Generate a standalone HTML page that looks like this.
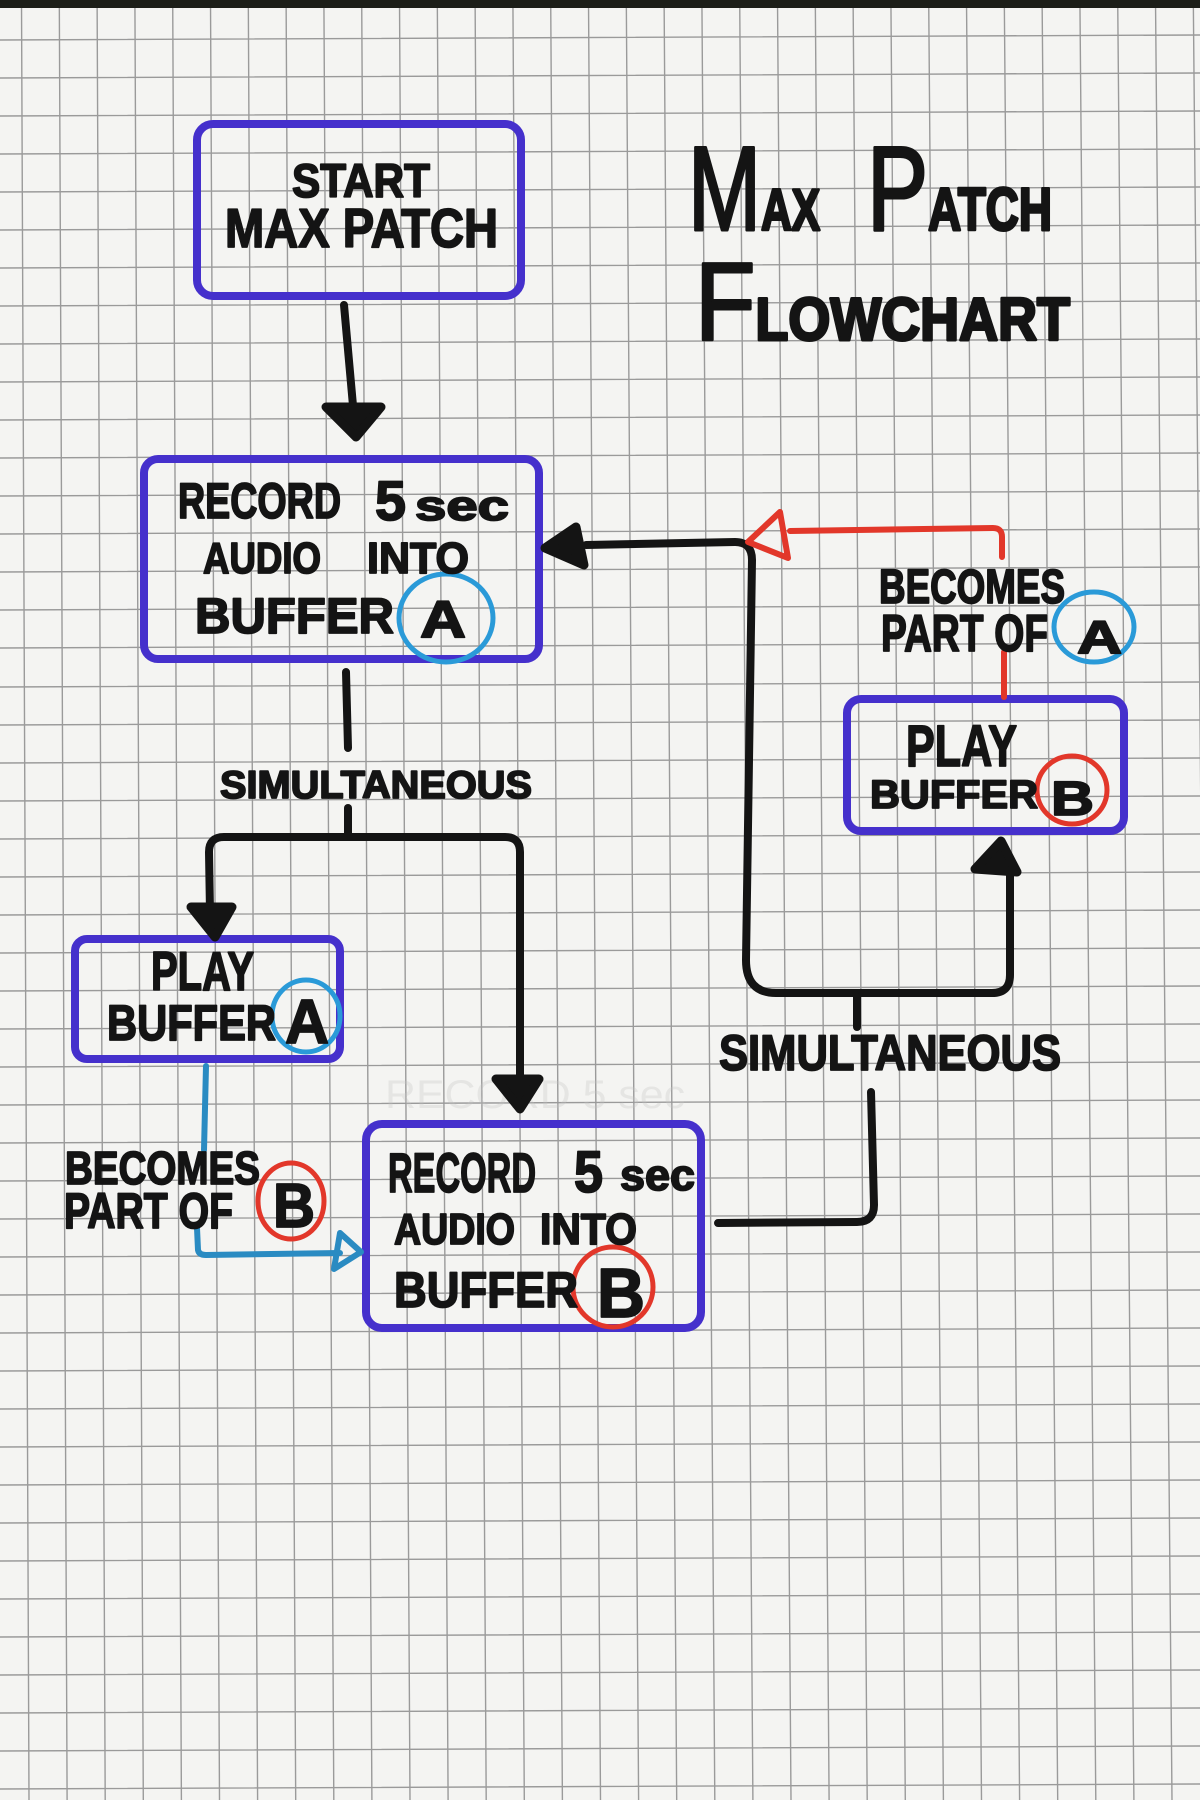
<!DOCTYPE html>
<html>
<head>
<meta charset="utf-8">
<style>
  html, body { margin:0; padding:0; background:#f3f3f1; }
  body { width:1200px; height:1800px; overflow:hidden; }
  svg { display:block; }
  .t { font-family:"Liberation Sans", "DejaVu Sans", sans-serif; font-weight:bold; fill:#141414; stroke:#141414; stroke-width:1.8; stroke-linejoin:round; }
  .tt { font-family:"Liberation Sans", "DejaVu Sans", sans-serif; fill:#141414; stroke:#141414; stroke-linejoin:round; }
</style>
</head>
<body>
<svg width="1200" height="1800" viewBox="0 0 1200 1800" xmlns="http://www.w3.org/2000/svg">
  <rect x="0" y="0" width="1200" height="1800" fill="#f4f4f2"/>
  <!-- grid vertical -->
  <path fill="none" stroke="#9a9a9a" stroke-width="1.4" d="
M21.5 0L29 1800M59.3 0L67.1 1800M97.1 0L105.2 1800M134.9 0L143.3 1800M172.7 0L181.4 1800M210.5 0L219.5 1800M248.3 0L257.6 1800M286.1 0L295.7 1800M323.9 0L333.8 1800M361.7 0L371.9 1800M399.5 0L410 1800M437.3 0L448.1 1800M475.1 0L486.2 1800M512.9 0L524.3 1800M550.7 0L562.4 1800M588.5 0L600.5 1800M626.3 0L638.6 1800M664.1 0L676.7 1800M701.9 0L714.8 1800M739.7 0L752.9 1800M777.5 0L791 1800M815.3 0L829.1 1800M853.1 0L867.2 1800M890.9 0L905.3 1800M928.7 0L943.4 1800M966.5 0L981.5 1800M1004.3 0L1019.6 1800M1042.1 0L1057.7 1800M1079.9 0L1095.8 1800M1117.7 0L1133.9 1800M1155.5 0L1172 1800M1193.3 0L1210.1 1800"/>
  <!-- grid horizontal -->
  <path fill="none" stroke="#9a9a9a" stroke-width="1.4" d="
M0 40L1200 35M0 78L1200 73M0 116L1200 111M0 154L1200 149M0 192L1200 187M0 230L1200 225M0 268L1200 263M0 306L1200 301M0 344L1200 339M0 382L1200 377M0 420L1200 415M0 458L1200 453M0 496L1200 491M0 534L1200 529M0 572L1200 567M0 610L1200 605M0 648L1200 643M0 687L1200 682M0 725L1200 720M0 763L1200 758M0 801L1200 796M0 839L1200 834M0 877L1200 872M0 915L1200 910M0 953L1200 948M0 991L1200 986M0 1029L1200 1024M0 1067L1200 1062M0 1105L1200 1100M0 1143L1200 1138M0 1181L1200 1176M0 1219L1200 1214M0 1257L1200 1252M0 1295L1200 1290M0 1333L1200 1328M0 1371L1200 1366M0 1409L1200 1404M0 1447L1200 1442M0 1485L1200 1480M0 1523L1200 1518M0 1561L1200 1556M0 1599L1200 1594M0 1637L1200 1632M0 1675L1200 1670M0 1713L1200 1708M0 1751L1200 1746M0 1789L1200 1784"/>
  <!-- top dark band -->
  <rect x="0" y="0" width="1200" height="8" fill="#1c1e18"/>

  <!-- faint pencil ghosts -->
  <g font-family="Liberation Sans, sans-serif" fill="#c4c4c4" opacity="0.3" font-size="40">
    <text x="385" y="1108" textLength="300" lengthAdjust="spacingAndGlyphs">RECORD 5 sec</text>
  </g>

  <!-- BOXES -->
  <g fill="none" stroke="#4530cc" stroke-width="8" stroke-linejoin="round">
    <rect x="197" y="124" width="324" height="172" rx="16"/>
    <rect x="144" y="459" width="395" height="200" rx="14"/>
    <rect x="847" y="699" width="277" height="132" rx="14"/>
    <rect x="75" y="939" width="265" height="120" rx="12"/>
    <rect x="366" y="1124" width="335" height="204" rx="16"/>
  </g>

  <!-- BLACK CONNECTORS -->
  <g fill="none" stroke="#141414" stroke-width="8" stroke-linecap="round" stroke-linejoin="round">
    <path d="M344 305 L355 428"/>
    <path d="M346 672 L348 748"/>
    <path d="M348 808 L348 837"/>
    <path d="M210 912 L209 852 Q209 837 224 837 L505 837 Q520 837 520 852 L520 1085"/>
    <path d="M586 545 L735 542 Q752 542 752 560 L746 960 Q746 993 776 993 L992 993 Q1010 993 1010 975 L1010 872"/>
    <path d="M857 997 L857 1027"/>
    <path d="M871 1092 L874 1205 Q874 1222 857 1222 L718 1223"/>
  </g>
  <g fill="#141414" stroke="#141414" stroke-width="9" stroke-linejoin="round">
    <path d="M326 407 L381 407 L356 437 Z"/>
    <path d="M191 907 L232 907 L215 937 Z"/>
    <path d="M496 1079 L539 1079 L520 1109 Z"/>
    <path d="M576 527 L545 548 L584 565 Z"/>
    <path d="M975 869 L1017 872 L1001 841 Z"/>
  </g>

  <!-- RED connectors -->
  <g fill="none" stroke="#e2372a" stroke-width="6" stroke-linecap="round" stroke-linejoin="round">
    <path d="M1002 557 L1002 537 Q1002 528 993 528 L790 531"/>
    <path d="M780 512 L748 542 L788 558 Z"/>
    <path d="M1004 652 L1004 697"/>
  </g>

  <!-- BLUE connectors -->
  <g fill="none" stroke="#2a8bc2" stroke-width="6" stroke-linecap="round" stroke-linejoin="round">
    <path d="M206 1066 L204 1150"/>
    <path d="M197 1228 L198 1250 Q199 1255 206 1255 L340 1253"/>
    <path d="M340 1233 L361 1252 L334 1269 Z"/>
  </g>

  <!-- CIRCLES -->
  <g fill="none" stroke-width="5">
    <ellipse cx="446" cy="618" rx="47" ry="44" stroke="#2a9ad8"/>
    <ellipse cx="1094" cy="627" rx="40" ry="35" stroke="#2a9ad8"/>
    <ellipse cx="306" cy="1016" rx="34" ry="36" stroke="#2a9ad8"/>
    <ellipse cx="1072" cy="790" rx="35" ry="34" stroke="#e2372a"/>
    <ellipse cx="291" cy="1201" rx="33" ry="38" stroke="#e2372a"/>
    <ellipse cx="613" cy="1287" rx="40" ry="40" stroke="#e2372a"/>
  </g>

  <!-- TEXT -->
  <g class="t">
    <text x="292" y="197" font-size="47" textLength="138" lengthAdjust="spacingAndGlyphs">START</text>
    <text x="225" y="247" font-size="55" textLength="273" lengthAdjust="spacingAndGlyphs">MAX PATCH</text>

    <text x="178" y="518" font-size="50" textLength="163" lengthAdjust="spacingAndGlyphs">RECORD</text>
    <text x="375" y="520" font-size="56" textLength="31" lengthAdjust="spacingAndGlyphs">5</text>
    <text x="415" y="520" font-size="42" textLength="94" lengthAdjust="spacingAndGlyphs">sec</text>
    <text x="203" y="573" font-size="44" textLength="118" lengthAdjust="spacingAndGlyphs">AUDIO</text>
    <text x="367" y="573" font-size="44" textLength="102" lengthAdjust="spacingAndGlyphs">INTO</text>
    <text x="195" y="633" font-size="50" textLength="199" lengthAdjust="spacingAndGlyphs">BUFFER</text>
    <text x="420" y="637" font-size="52" textLength="46" lengthAdjust="spacingAndGlyphs">A</text>

    <text x="220" y="798" font-size="39" textLength="312" lengthAdjust="spacingAndGlyphs">SIMULTANEOUS</text>

    <text x="151" y="990" font-size="55" textLength="103" lengthAdjust="spacingAndGlyphs">PLAY</text>
    <text x="107" y="1040" font-size="50" textLength="169" lengthAdjust="spacingAndGlyphs">BUFFER</text>
    <text x="285" y="1043" font-size="62" textLength="44" lengthAdjust="spacingAndGlyphs">A</text>

    <text x="65" y="1184" font-size="46" textLength="195" lengthAdjust="spacingAndGlyphs">BECOMES</text>
    <text x="64" y="1228" font-size="50" textLength="169" lengthAdjust="spacingAndGlyphs">PART OF</text>
    <text x="273" y="1227" font-size="62" textLength="42" lengthAdjust="spacingAndGlyphs">B</text>

    <text x="388" y="1192" font-size="56" textLength="148" lengthAdjust="spacingAndGlyphs">RECORD</text>
    <text x="574" y="1192" font-size="58" textLength="29" lengthAdjust="spacingAndGlyphs">5</text>
    <text x="620" y="1190" font-size="44" textLength="75" lengthAdjust="spacingAndGlyphs">sec</text>
    <text x="394" y="1244" font-size="44" textLength="121" lengthAdjust="spacingAndGlyphs">AUDIO</text>
    <text x="540" y="1244" font-size="44" textLength="97" lengthAdjust="spacingAndGlyphs">INTO</text>
    <text x="394" y="1307" font-size="50" textLength="184" lengthAdjust="spacingAndGlyphs">BUFFER</text>
    <text x="597" y="1317" font-size="70" textLength="48" lengthAdjust="spacingAndGlyphs">B</text>

    <text x="879" y="603" font-size="48" textLength="186" lengthAdjust="spacingAndGlyphs">BECOMES</text>
    <text x="881" y="651" font-size="52" textLength="167" lengthAdjust="spacingAndGlyphs">PART OF</text>
    <text x="1077" y="653" font-size="46" textLength="45" lengthAdjust="spacingAndGlyphs">A</text>

    <text x="906" y="766" font-size="58" textLength="111" lengthAdjust="spacingAndGlyphs">PLAY</text>
    <text x="870" y="808" font-size="40" textLength="168" lengthAdjust="spacingAndGlyphs">BUFFER</text>
    <text x="1051" y="815" font-size="48" textLength="43" lengthAdjust="spacingAndGlyphs">B</text>

    <text x="719" y="1070" font-size="50" textLength="342" lengthAdjust="spacingAndGlyphs">SIMULTANEOUS</text>
  </g>

  <!-- TITLE -->
  <g class="tt">
    <text x="688" y="230" textLength="132" lengthAdjust="spacingAndGlyphs"><tspan font-size="120" stroke-width="3">M</tspan><tspan font-size="58" font-weight="bold" stroke-width="3">AX</tspan></text>
    <text x="867" y="230" textLength="185" lengthAdjust="spacingAndGlyphs"><tspan font-size="120" stroke-width="3">P</tspan><tspan font-size="60" font-weight="bold" stroke-width="3">ATCH</tspan></text>
    <text x="695" y="340" textLength="375" lengthAdjust="spacingAndGlyphs"><tspan font-size="110" stroke-width="3">F</tspan><tspan font-size="60" font-weight="bold" stroke-width="3">LOWCHART</tspan></text>
  </g>
</svg>
</body>
</html>
